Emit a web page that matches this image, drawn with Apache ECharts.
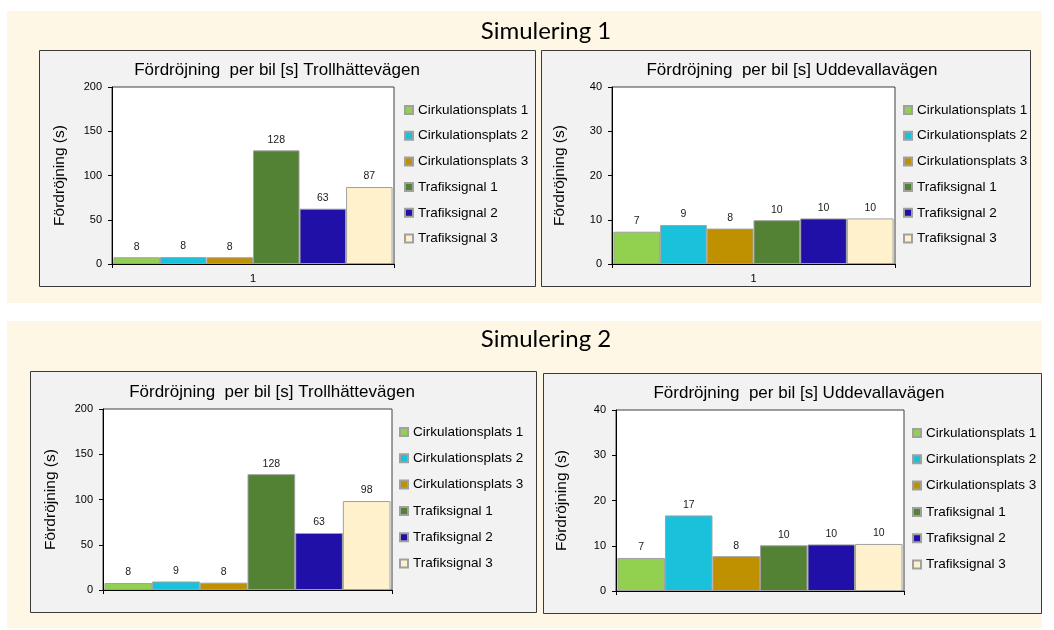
<!DOCTYPE html>
<html>
<head>
<meta charset="utf-8">
<style>
html,body{margin:0;padding:0;background:#fff;}
#chart{width:1054px;height:630px;}
</style>
<script src="https://cdn.jsdelivr.net/npm/echarts@6/dist/echarts.min.js"></script>
</head>
<body>
<div id="chart"></div>
<script>
const categories = ['1'];
const seriesNames = ['Cirkulationsplats 1','Cirkulationsplats 2','Cirkulationsplats 3','Trafiksignal 1','Trafiksignal 2','Trafiksignal 3'];
const seriesColors = ['#92d050','#19c2da','#bf9000','#538234','#2010a8','#fff1cc'];
const sim1Troll = [7.6, 7.8, 7.6, 128.4, 62.5, 87];
const sim1Udde = [7.3, 8.8, 8.0, 9.9, 10.3, 10.3];
const sim2Troll = [7.7, 9.4, 8.1, 128, 63, 98.3];
const sim2Udde = [7.3, 16.7, 7.7, 10.1, 10.3, 10.4];
const bandTitles = ['Simulering 1','Simulering 2'];
const chartTitles = ['Fördröjning  per bil [s] Trollhättevägen','Fördröjning  per bil [s] Uddevallavägen','Fördröjning  per bil [s] Trollhättevägen','Fördröjning  per bil [s] Uddevallavägen'];
const yAxisName = 'Fördröjning (s)';
const yMax = [200, 40, 200, 40];
const yInterval = [50, 10, 50, 10];

const FONT = '"Liberation Sans", Arial, sans-serif';

const panels = [
  {x:39, y:50, w:496, h:236, grid:{left:112, top:87, width:282, height:177}, title:[277,70], legend:[404,103], gap:11.7, nameGap:44, showX:true, data:sim1Troll},
  {x:541, y:50, w:489, h:236, grid:{left:612, top:87, width:283, height:177}, title:[792,70], legend:[903,103], gap:11.7, nameGap:44, showX:true, data:sim1Udde},
  {x:30, y:371, w:506, h:241, grid:{left:103, top:409, width:289, height:181}, title:[272,392], legend:[399,425], gap:12.3, nameGap:44, showX:false, data:sim2Troll},
  {x:543, y:373, w:498, h:240, grid:{left:616, top:410, width:288, height:181}, title:[799,393], legend:[912,426], gap:12.3, nameGap:46, showX:false, data:sim2Udde}
];

const graphic = [
  {type:'rect', z:-20, shape:{x:7, y:11, width:1035, height:292}, style:{fill:'#fef7e5'}},
  {type:'rect', z:-20, shape:{x:7, y:321, width:1035, height:307}, style:{fill:'#fef7e5'}},
  {type:'text', z:50, x:546, y:31, style:{text:bandTitles[0], font:'24px Lato, "Open Sans", sans-serif', fill:'#000', align:'center', verticalAlign:'middle', textAlign:'center', textVerticalAlign:'middle'}},
  {type:'text', z:50, x:546, y:339, style:{text:bandTitles[1], font:'24px Lato, "Open Sans", sans-serif', fill:'#000', align:'center', verticalAlign:'middle', textAlign:'center', textVerticalAlign:'middle'}}
];
panels.forEach((p, i) => {
  graphic.push({type:'rect', z:-10, shape:{x:p.x+0.5, y:p.y+0.5, width:p.w, height:p.h}, style:{fill:'#f2f2f2', stroke:'#3a3a3a', lineWidth:1}});
  graphic.push({type:'text', z:50, x:p.title[0], y:p.title[1], style:{text:chartTitles[i], font:'17px ' + FONT, fill:'#000', align:'center', verticalAlign:'middle', textAlign:'center', textVerticalAlign:'middle'}});
});

const grid = panels.map(p => Object.assign({show:true, backgroundColor:'#fff', borderColor:'#404040', borderWidth:1}, p.grid));
const xAxis = panels.map((p, i) => ({
  type:'category', gridIndex:i, data:categories,
  axisLine:{lineStyle:{color:'#000', width:1}},
  axisTick:{show:true, length:4, alignWithLabel:false, lineStyle:{color:'#000'}},
  axisLabel:{show:p.showX, color:'#000', fontSize:11, fontFamily:FONT, margin:9}
}));
const yAxis = panels.map((p, i) => ({
  type:'value', gridIndex:i, min:0, max:yMax[i], interval:yInterval[i],
  name:yAxisName, nameLocation:'middle', nameGap:p.nameGap, nameRotate:90,
  nameTextStyle:{color:'#000', fontSize:15.5, fontFamily:FONT},
  axisLine:{show:true, lineStyle:{color:'#000', width:1}},
  axisTick:{show:true, length:4, lineStyle:{color:'#000'}},
  axisLabel:{color:'#000', fontSize:11, fontFamily:FONT, margin:10},
  splitLine:{show:false}
}));
const legend = panels.map((p, i) => ({
  orient:'vertical', left:p.legend[0], top:p.legend[1], padding:0,
  itemWidth:8, itemHeight:8, itemGap:p.gap, icon:'rect',
  data:seriesNames,
  textStyle:{color:'#000', fontSize:13.5, lineHeight:14, fontFamily:FONT}
}));
const series = [];
panels.forEach((p, i) => {
  seriesNames.forEach((name, k) => {
    series.push({
      type:'bar', name:name, xAxisIndex:i, yAxisIndex:i,
      data:[p.data[k]],
      barGap:'0%', barCategoryGap:'1%',
      itemStyle:{color:seriesColors[k], borderColor:'#a0a0a0', borderWidth:1},
      label:{show:true, position:'top', distance:5, color:'#1a1a1a', fontSize:10.5, fontFamily:FONT,
        formatter: prm => String(Math.round(prm.value))},
      emphasis:{disabled:true},
      animation:false
    });
  });
});

const chart = echarts.init(document.getElementById('chart'), null, {renderer:'canvas'});
chart.setOption({
  backgroundColor:'#fff',
  animation:false,
  color:seriesColors,
  graphic:graphic,
  grid:grid, xAxis:xAxis, yAxis:yAxis, legend:legend, series:series
});
</script>
</body>
</html>
